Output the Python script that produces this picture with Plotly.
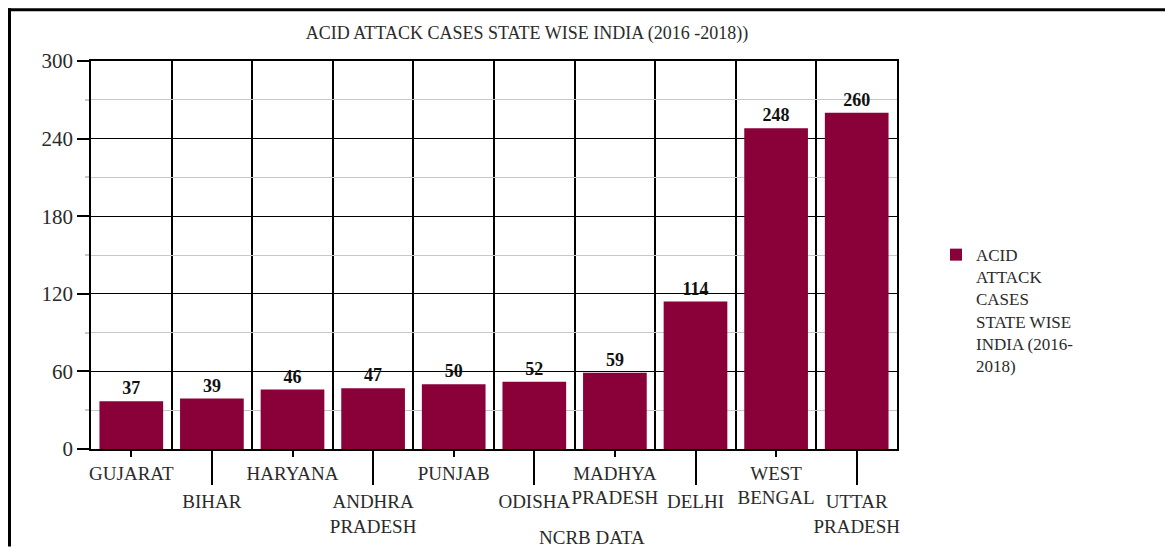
import plotly.graph_objects as go

states = ["GUJARAT", "BIHAR", "HARYANA", "ANDHRA<br>PRADESH", "PUNJAB", "ODISHA",
          "MADHYA<br>PRADESH", "DELHI", "WEST<br>BENGAL", "UTTAR<br>PRADESH"]
cases = [37, 39, 46, 47, 50, 52, 59, 114, 248, 260]
series_name = "ACID<br>ATTACK<br>CASES<br>STATE WISE<br>INDIA (2016-<br>2018)"
title_text = "ACID ATTACK CASES STATE WISE INDIA (2016 -2018))"
x_title = "NCRB DATA"
y_ticks = [0, 60, 120, 180, 240, 300]

idx = list(range(len(states)))
even_idx = idx[0::2]
odd_idx = idx[1::2]

W, H = 1165, 549
L, R, T, B = 91, 268, 61, 98
pw, ph = W - L - R, H - T - B

def px_x(p):
    return (p - L) / pw

def px_y(p):
    return (H - B - p) / ph

BAR = "#8A0038"
SERIF = "Liberation Serif"
TXT = "#2a2a2a"

fig = go.Figure()
fig.add_trace(go.Bar(
    x=idx, y=cases, name=series_name, marker=dict(color=BAR, line=dict(width=0)),
    text=[str(v) for v in cases], textposition="outside", cliponaxis=False,
    textfont=dict(family=SERIF, size=18, color="#111", weight="bold"),
    showlegend=True,
))
fig.add_trace(go.Scatter(
    x=idx, y=cases, xaxis="x2", mode="markers", marker=dict(opacity=0),
    hoverinfo="skip", showlegend=False,
))

tickfont = dict(family=SERIF, size=19, color=TXT)

fig.update_layout(
    width=W, height=H,
    margin=dict(l=L, r=R, t=T, b=B, pad=0),
    paper_bgcolor="white", plot_bgcolor="white",
    bargap=0.21,
    title=dict(text=title_text, x=px_x(527), xref="paper", xanchor="center",
               y=1 - 33 / H, yref="container", yanchor="middle",
               font=dict(family=SERIF, size=18, color=TXT)),
    xaxis=dict(
        range=[-0.5, len(states) - 0.5], tickmode="array", tickvals=even_idx,
        ticktext=[states[i] for i in even_idx], ticks="outside", ticklen=6,
        tickwidth=1.5, tickcolor="black", tickfont=tickfont,
        showgrid=False, zeroline=False, showline=True, linecolor="black",
        linewidth=1.5, mirror=True,
        minor=dict(tick0=-0.5, dtick=1, showgrid=True, gridcolor="black",
                   gridwidth=1.5, ticks=""),
    ),
    xaxis2=dict(
        overlaying="x", anchor="y", side="bottom", matches="x",
        range=[-0.5, len(states) - 0.5], tickmode="array", tickvals=odd_idx,
        ticktext=[states[i] for i in odd_idx], ticks="outside", ticklen=35,
        tickwidth=1.5, tickcolor="black", tickfont=tickfont,
        showgrid=False, zeroline=False, showline=False,
    ),
    yaxis=dict(
        range=[0, 300], tickmode="array", tickvals=y_ticks, ticks="outside",
        ticklen=12, tickwidth=1.5, tickcolor="black",
        tickfont=dict(family=SERIF, size=21, color=TXT),
        showgrid=True, gridcolor="black", gridwidth=1.3, zeroline=False,
        showline=True, linecolor="black", linewidth=1.5, mirror=True,
        minor=dict(dtick=30, tick0=0, showgrid=True, gridcolor="#c8c8c8",
                   gridwidth=1, ticks="outside", ticklen=4, tickcolor="#c8c8c8"),
    ),
    legend=dict(x=px_x(936), xanchor="left", y=px_y(238), yanchor="top",
                valign="top", font=dict(family=SERIF, size=17, color=TXT),
                bgcolor="rgba(0,0,0,0)", borderwidth=0, itemwidth=30),
    annotations=[dict(text=x_title, xref="paper", yref="paper", x=px_x(592),
                      y=px_y(540), xanchor="center", yanchor="middle",
                      showarrow=False, font=dict(family=SERIF, size=19, color=TXT))],
    shapes=[
        dict(type="line", xref="paper", yref="paper", x0=px_x(8), x1=px_x(1165),
             y0=px_y(9.5), y1=px_y(9.5), line=dict(color="black", width=3)),
        dict(type="line", xref="paper", yref="paper", x0=px_x(9.5), x1=px_x(9.5),
             y0=px_y(8), y1=px_y(549), line=dict(color="black", width=3)),
    ],
    showlegend=True,
)

fig.write_html("out.html")
